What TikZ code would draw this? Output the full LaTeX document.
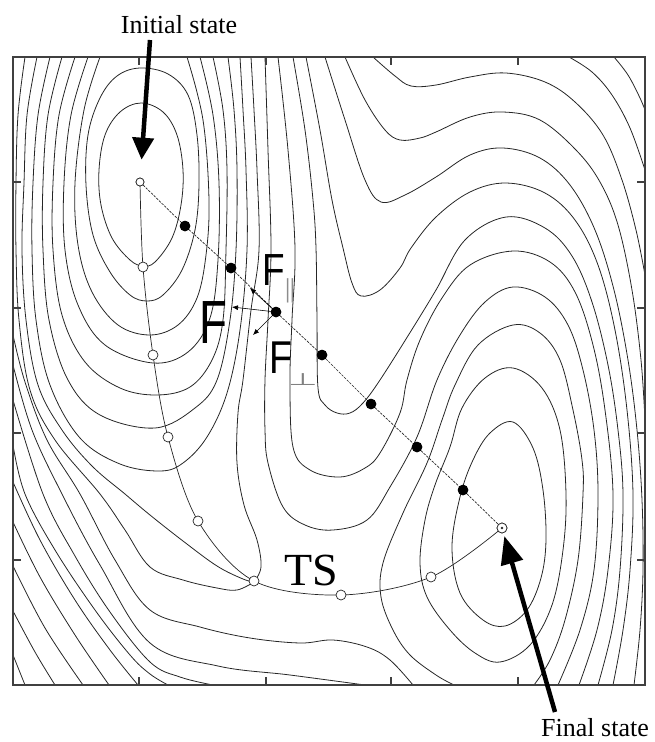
\documentclass[tikz,border=0pt]{standalone}
\usepackage{fontspec}
\setmainfont{Liberation Serif}
\newfontfamily\sansf{Liberation Sans}
\newfontfamily\dejavu{DejaVu Sans}
\usetikzlibrary{arrows.meta}
\begin{document}
\begin{tikzpicture}[x=1pt,y=-1pt,
  cont/.style={line width=0.8pt, black!85, line join=round},
  frm/.style={line width=1.2pt, black!75},
  mep/.style={line width=0.7pt, black!85},
  band/.style={line width=0.7pt, black!85, dash pattern=on 2.5pt off 1.2pt},
  openc/.style={circle, draw=black!85, fill=white, line width=0.7pt, inner sep=0pt, minimum size=10pt},
  blackdot/.style={circle, fill=black, inner sep=0pt, minimum size=10.5pt},
  farrow/.style={line width=0.6pt, -{Latex[length=6pt,width=5pt]}},
  bigarrow/.style={line width=4.5pt},
  lab/.style={font=\fontsize{26}{30}\selectfont, inner sep=0pt}
]
\useasboundingbox (0,0) rectangle (654,742);

% ---------------- contours ----------------
\begin{scope}
\clip (13,57) rectangle (645,685);
% closed loops around initial minimum
\draw[cont] plot[smooth cycle, tension=0.6] coordinates {(141,103) (163,112) (177,135) (183,170) (181,205) (172,238) (155,262) (143,266) (130,260) (112,238) (101,205) (99,170) (105,135) (120,112)};
\draw[cont] plot[smooth cycle, tension=0.6] coordinates {(140,68) (168,74) (188,95) (197,135) (199,185) (195,230) (182,270) (163,295) (147,301) (130,295) (110,272) (93,235) (86,185) (88,135) (100,98) (117,76)};
% open U contours around initial minimum
\draw[cont] plot[smooth, tension=0.6] coordinates {(100,57) (84,110) (75,183) (78,245) (92,292) (118,325) (150,335) (178,325) (197,298) (206,255) (209,200) (203,120) (187,57)};
\draw[cont] plot[smooth, tension=0.6] coordinates {(88,57) (71,115) (64,183) (65,250) (78,305) (105,345) (153,363) (188,352) (210,318) (218,260) (219,183) (213,115) (200,57)};
\draw[cont] plot[smooth, tension=0.6] coordinates {(75,57) (59,115) (53,183) (53,250) (62,315) (85,362) (120,388) (157,395) (190,387) (212,360) (223,320) (226,250) (227,170) (223,110) (213,57)};
\draw[cont] plot[smooth, tension=0.6] coordinates {(62,57) (48,115) (43,183) (43,250) (49,320) (68,380) (100,415) (155,428) (195,408) (217,380) (230,320) (236,250) (237,170) (234,110) (228,57)};
\draw[cont] plot[smooth, tension=0.6] coordinates {(50,57) (38,115) (33,183) (32,250) (36,320) (50,385) (80,438) (120,464) (160,471) (183,463) (207,437) (227,393) (240,330) (247,250) (246,170) (243,110) (240,57)};
% saddle contour
\draw[cont] plot[smooth, tension=0.6] coordinates {(37,57) (27,115) (24,183) (22,250) (26,320) (38,385) (62,430) (92,466) (125,494) (150,515) (183,541) (217,566) (243,579) (254,582)};
\draw[cont] plot[smooth, tension=0.6] coordinates {(254,582) (261,567) (257,540) (244,505) (237,463) (238,413) (243,380) (251,310) (259,250) (257,170) (254,110) (251,57)};
\draw[cont] plot[smooth, tension=0.6] coordinates {(25,57) (18,115) (16,183) (16,250) (19,320) (30,390) (55,440) (100,494) (125,530) (150,567) (183,580) (217,588) (237,590) (254,582)};
% lower-left family
\draw[cont] plot[smooth, tension=0.6] coordinates {(13,335) (25,382) (47,440) (80,494) (115,560) (150,610) (200,627) (250,638) (300,643) (333,640) (367,647) (390,660) (413,685)};
\draw[cont] plot[smooth, tension=0.6] coordinates {(13,365) (32,430) (62,494) (100,565) (150,643) (218,666) (290,675) (365,685)};
\draw[cont] plot[smooth, tension=0.6] coordinates {(13,400) (43,494) (75,556) (110,612) (150,662) (180,677) (213,685)};
\draw[cont] plot[smooth, tension=0.6] coordinates {(13,445) (25,494) (55,550) (95,610) (130,655) (150,674) (168,685)};
\draw[cont] plot[smooth, tension=0.6] coordinates {(13,482) (40,540) (75,600) (110,650) (138,685)};
\draw[cont] plot[smooth, tension=0.6] coordinates {(13,522) (40,577) (75,635) (109,685)};
\draw[cont] plot[smooth, tension=0.6] coordinates {(13,566) (45,628) (83,685)};
\draw[cont] plot[smooth, tension=0.6] coordinates {(13,611) (35,652) (55,685)};
\draw[cont] plot[smooth, tension=0.6] coordinates {(13,655) (25,685)};
% valley / arch family
\draw[cont] plot[smooth, tension=0.6] coordinates {(265,57) (268,150) (271,248) (268,320) (265,380) (265,430) (268,463) (283,507) (305,525) (333,530) (367,520) (390,487) (417,437) (437,380) (460,335) (485,302) (513,287) (545,297) (568,325) (583,370) (594,430) (598,494) (594,570) (580,630) (558,685)};
\draw[cont] plot[smooth, tension=0.6] coordinates {(278,57) (288,150) (295,248) (292,320) (290,380) (293,447) (310,470) (340,477) (365,468) (380,453) (400,413) (407,380) (420,340) (442,298) (470,265) (513,251) (550,262) (575,292) (593,345) (605,410) (613,494) (608,570) (597,630) (579,685)};
\draw[cont] plot[smooth, tension=0.6] coordinates {(293,57) (305,130) (313,200) (316,248) (317,320) (318,388) (325,405) (337,413) (350,413) (363,403) (380,380) (411,331) (436,290) (465,240) (506,217) (545,228) (572,256) (592,302) (608,365) (618,430) (623,494) (620,570) (612,630) (598,685)};
\draw[cont] plot[smooth, tension=0.6] coordinates {(306,57) (320,130) (332,200) (343,248) (352,283) (361,296) (380,290) (400,268) (411,248) (436,217) (470,192) (506,183) (545,193) (575,220) (598,265) (615,330) (627,410) (633,494) (630,570) (623,630) (613,685)};
\draw[cont] plot[smooth, tension=0.6] coordinates {(325,57) (345,120) (365,180) (381,202) (405,195) (436,177) (470,155) (503,148) (540,158) (570,185) (595,230) (614,290) (628,360) (637,430) (642,500) (643,570) (640,630) (634,685)};
\draw[cont] plot[smooth, tension=0.6] coordinates {(345,57) (365,100) (385,130) (400,140) (420,138) (436,132) (470,117) (503,112) (540,120) (576,150) (600,182) (618,225) (632,290) (641,360) (645,420)};
\draw[cont] plot[smooth, tension=0.6] coordinates {(373,57) (395,76) (411,86) (436,85) (470,77) (506,73) (545,82) (575,102) (603,135) (622,180) (636,230) (645,275)};
\draw[cont] plot[smooth, tension=0.6] coordinates {(569,57) (592,72) (612,95) (630,128) (645,170)};
\draw[cont] plot[smooth, tension=0.6] coordinates {(614,57) (628,75) (640,98) (647,115)};
% around final minimum
\draw[cont] plot[smooth, tension=0.6] coordinates {(454,685) (436,675) (410,655) (393,630) (381,597) (383,563) (403,513) (427,463) (442,420) (455,385) (478,345) (513,325) (540,333) (560,360) (573,410) (582,460) (583,494) (578,560) (565,620) (550,660) (534,685)};
\draw[cont] plot[smooth cycle, tension=0.6] coordinates {(513,368) (485,378) (462,408) (450,447) (435,485) (425,520) (420,563) (427,597) (450,630) (475,653) (500,662) (530,645) (552,605) (563,550) (566,494) (560,430) (542,388)};
\draw[cont] plot[smooth cycle, tension=0.6] coordinates {(513,422) (490,433) (473,460) (460,497) (452,547) (460,593) (483,620) (505,626) (527,610) (541,578) (546,540) (543,490) (533,448)};
\end{scope}

% ---------------- frame and ticks ----------------
\draw[frm] (13,57) rectangle (645,685);
\foreach \t in {139,266,391,518} {
  \draw[frm] (\t,57) -- (\t,65);
  \draw[frm] (\t,685) -- (\t,677);
}
\foreach \t in {182,308,433,560} {
  \draw[frm] (13,\t) -- (21,\t);
  \draw[frm] (645,\t) -- (637,\t);
}

% ---------------- states and images ----------------
\node[openc, minimum size=8pt] (init) at (140,182) {};
\node[openc, minimum size=10pt] (fin) at (502,528) {};
\node[blackdot] (b1) at (185,226) {};
\node[blackdot] (b2) at (231,268) {};
\node[blackdot] (b3) at (276,312) {};
\node[blackdot] (b4) at (322,355) {};
\node[blackdot] (b5) at (371,404) {};
\node[blackdot] (b6) at (417,447) {};
\node[blackdot] (b7) at (463,490) {};
\coordinate (m1) at (143,267);
\coordinate (m2) at (153,355);
\coordinate (m3) at (168,437);
\coordinate (m4) at (198,521);
\coordinate (m5) at (254,581);
\coordinate (m6) at (341,595);
\coordinate (m7) at (431,577);

% minimum energy path
\draw[mep] plot[smooth, tension=0.55] coordinates {(init.center) (m1) (m2) (m3) (m4) (m5) (m6) (m7) (fin.center)};
% straight elastic band
\draw[band] (init) -- (b1) -- (b2) -- (b3) -- (b4) -- (b5) -- (b6) -- (b7) -- (fin);

\foreach \m in {m1,m2,m3,m4,m5,m6,m7} {
  \node[openc] (c\m) at (\m) {};
}
\foreach \b in {b1,b2,b3,b4,b5,b6,b7} {
  \node[blackdot] at (\b) {};
}
\node[openc, minimum size=8pt] at (init) {};
\node[openc, minimum size=10pt] at (fin) {};
\fill[black!85] (fin) circle (1.3pt);

% ---------------- forces ----------------
\coordinate (fF) at (232,307);
\coordinate (fpar) at (250,288);
\coordinate (fperp) at (253,335);
\draw[farrow] (b3.center) -- (fF);
\draw[farrow] (b3.center) -- (fpar);
\draw[farrow] (b3.center) -- (fperp);

\node[inner sep=0pt, anchor=base, font=\sansf\fontsize{61}{61}\selectfont] (lF) at (213,343) {\scalebox{0.75}[1]{F}};
\node[inner sep=0pt, anchor=base, font=\sansf\fontsize{45}{45}\selectfont] (lFpar) at (274,285) {\scalebox{0.82}[1]{F}};
\node[inner sep=0pt, text=black!45, font=\sansf\fontsize{26}{26}\selectfont] (lpar) at (290,291) {\scalebox{0.7}[1]{||}};
\node[inner sep=0pt, anchor=base, font=\sansf\fontsize{46}{46}\selectfont] (lFperp) at (281,373) {\scalebox{0.82}[1]{F}};
\node[inner sep=0pt, text=black!50, font=\dejavu\fontsize{34}{34}\selectfont] (lperp) at (303,380) {\scalebox{1}[0.5]{⊥}};

% ---------------- labels ----------------
\node[lab, anchor=base] (ilab) at (179,33) {Initial state};
\node[lab, anchor=base] (flab) at (595,736) {Final state};
\node[inner sep=0pt, anchor=base west, font=\fontsize{46}{46}\selectfont] (ts) at (284,585) {TS};

\coordinate (itail) at (150,40);
\draw[bigarrow, -{Triangle[length=22pt,width=21pt]}, shorten >=18pt] (itail) -- (init);
\coordinate (ftail) at (555,712);
\draw[bigarrow, -{Triangle[length=28pt,width=22pt]}, shorten >=3pt] (ftail) -- (fin);
\end{tikzpicture}
\end{document}
